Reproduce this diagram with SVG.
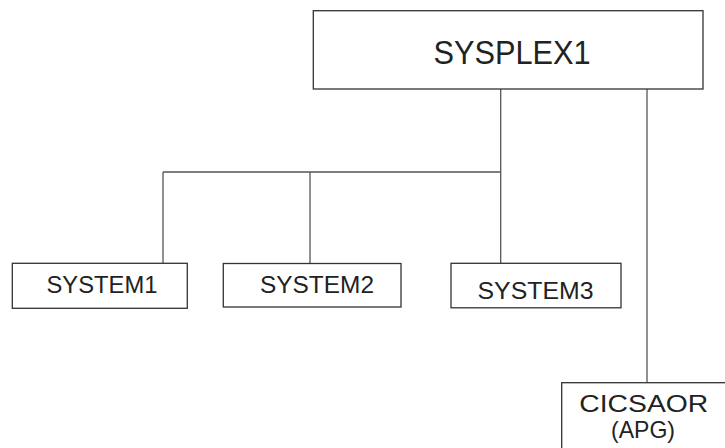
<svg xmlns="http://www.w3.org/2000/svg" width="725" height="448" viewBox="0 0 725 448">
<style>
.box{fill:#fff;stroke:#333;stroke-width:1.3}
.ln{fill:none;stroke:#555;stroke-width:1.3}
text{font-family:"Liberation Sans",Arial,sans-serif;fill:#222;text-anchor:middle}
</style>
<rect width="725" height="448" fill="#fff"/>
<g id="connectors">
<line class="ln" x1="500.7" y1="89" x2="500.7" y2="263"/>
<line class="ln" x1="163" y1="172" x2="500.7" y2="172"/>
<line class="ln" x1="163" y1="172" x2="163" y2="263"/>
<line class="ln" x1="310" y1="172" x2="310" y2="263"/>
<line class="ln" x1="647" y1="89" x2="647" y2="383"/>
</g>
<g id="sysplex1">
<rect class="box" x="313.3" y="10.7" width="389.7" height="78.3"/>
<text x="512" y="64" font-size="34" textLength="157" lengthAdjust="spacingAndGlyphs">SYSPLEX1</text>
</g>
<g id="system1">
<rect class="box" x="12.3" y="263.3" width="175" height="45"/>
<text x="102" y="293.3" font-size="23.5" textLength="111" lengthAdjust="spacingAndGlyphs">SYSTEM1</text>
</g>
<g id="system2">
<rect class="box" x="223.3" y="263.5" width="177.7" height="43.5"/>
<text x="317" y="293.3" font-size="23.5" textLength="114" lengthAdjust="spacingAndGlyphs">SYSTEM2</text>
</g>
<g id="system3">
<rect class="box" x="451" y="263.3" width="170" height="44.5"/>
<text x="535.5" y="299.3" font-size="23.5" textLength="116" lengthAdjust="spacingAndGlyphs">SYSTEM3</text>
</g>
<g id="cicsaor">
<rect class="box" x="561.7" y="382.7" width="170" height="80"/>
<text x="643.8" y="411.7" font-size="24.5" textLength="129" lengthAdjust="spacingAndGlyphs">CICSAOR</text>
<text x="643" y="437.5" font-size="24.5" textLength="64" lengthAdjust="spacingAndGlyphs">(APG)</text>
</g>
</svg>
